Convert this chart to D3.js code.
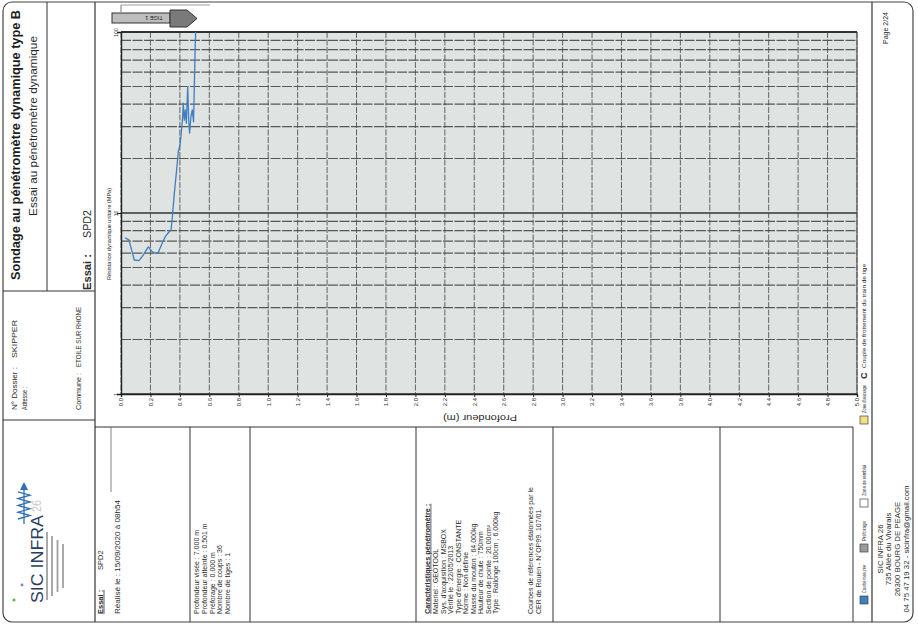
<!DOCTYPE html>
<html><head><meta charset="utf-8">
<script src="https://cdn.jsdelivr.net/npm/d3@7"></script>
<style>
html,body{margin:0;padding:0;background:#fff;}
svg{display:block;font-family:"Liberation Sans",Arial,sans-serif;}
</style></head><body>
<svg id="page" width="918" height="629"></svg>
<script>
// ---- data ----
const depth = [0.027,0.054,0.090,0.122,0.151,0.185,0.213,0.231,0.253,0.281,0.303,0.326,0.340,0.349,0.362,0.378,0.389,0.401,0.408,0.419,0.423,0.430,0.437,0.444,0.453,0.460,0.466,0.475,0.484,0.493,0.503,0.507];
const resistance = [7.3,7.1,5.5,5.45,5.85,6.5,6.1,6.0,6.05,6.85,7.45,7.85,8.05,9.5,12.8,17.3,21.8,23.8,27.0,34.0,40.4,32.6,37.1,31.3,49.9,32.6,27.6,34.0,37.1,31.9,76.0,100];
const depthTicks = [0,0.2,0.4,0.6,0.8,1.0,1.2,1.4,1.6,1.8,2.0,2.2,2.4,2.6,2.8,3.0,3.2,3.4,3.6,3.8,4.0,4.2,4.4,4.6,4.8,5.0];
const resistanceTicks = [1,10,100];
const resistanceMinor = [2,3,4,5,6,7,8,9,20,30,40,50,60,70,80,90];
const legendLabels = ["Courbe mesurée","Préforage","Zone de remblai","Zone d'ancrage"];
const legendColors = ["#3f7fc0","#9a9a9a","#ffffff","#f2df8a"];
const titleText = "Sondage au pénétromètre dynamique type B";
const subtitleText = "Essai au pénétromètre dynamique";
const essaiName = "SPD2";
const dossierName = "SKIPPER";
const communeName = "ETOILE SUR RHONE";
const realiseText = "Réalisé le : 15/09/2020 à 08h54";
const sondageInfo = ["Profondeur visée : 7.000 m","Profondeur atteinte : 0.501 m","Préforage : 0.000 m","Nombre de coups : 36","Nombre de tiges : 1"];
const caracTitle = "Caractéristiques pénétromètre :";
const caracInfo = ["Materiel : GEOTOOL","Sys. d'acquisition : MSBOX","Vérifié le : 22/05/2013","Type d'énergie : CONSTANTE","Norme : Non définie","Masse du mouton : 64.000kg","Hauteur de chute : 750mm","Section de pointe : 20.00cm²","Type : Rallonge 100cm , 6.000kg"];
const courbesInfo = ["Courbes de références étalonnées par le","CER de Rouen - N°OP99. 107/01"];
const footerLines = ["SIC INFRA 26","735 Allée du Vivarais","26300 BOURG DE PEAGE","04 75 47 19 32 - sicinfra@gmail.com"];
const pageText = "Page 2/24";

// ---- drawing ----
const svg = d3.select("#page");
const ink = "#2a2a2a";

// rotated text helper (reads bottom-to-top); cx = visual centre of glyph column
function rtext(cx, y, str, fs, o = {}) {
  const t = svg.append("text")
    .attr("transform", `translate(${cx + 0.35 * fs},${y}) rotate(-90)`)
    .attr("font-size", fs)
    .attr("fill", o.fill || ink)
    .attr("text-anchor", o.anchor || "start")
    .text(str);
  if (o.bold) t.attr("font-weight", o.bold);
  if (o.underline) t.attr("text-decoration", "underline");
  if (o.len) t.attr("textLength", o.len).attr("lengthAdjust", "spacingAndGlyphs");
  return t;
}
function line(x1, y1, x2, y2, w = 1, c = "#333") {
  svg.append("line").attr("x1", x1).attr("y1", y1).attr("x2", x2).attr("y2", y2)
    .attr("stroke", c).attr("stroke-width", w);
}

// outer frame
svg.append("rect").attr("x", 3).attr("y", 2).attr("width", 910).attr("height", 620)
  .attr("rx", 9).attr("fill", "none").attr("stroke", "#444").attr("stroke-width", 1.2);
line(95, 2, 95, 622, 1.2);
line(872, 2, 872, 622, 1.2);
line(3, 291, 95, 291, 1.1);
line(47, 2, 47, 291, 1);
line(3, 420, 95, 420, 1);
// bottom table
line(95, 427, 853, 427, 1.2);
[190, 250, 416, 553, 720, 853].forEach(x => line(x, 427, x, 622, 1));
line(111, 427, 111, 492, 0.8, "#666");

// ---- left column ----
rtext(16, 280, titleText, 12, { bold: 700, len: 270, fill: "#1d1d1d" });
rtext(33, 216, subtitleText, 10.5, { len: 180 });
rtext(87, 290, "Essai :", 11, { bold: 600, len: 36 });
rtext(87, 238, essaiName, 11, { len: 28 });
rtext(14, 410, "N° Dossier :", 8, { len: 43 });
rtext(14, 358, dossierName, 8, { len: 38 });
rtext(24, 410, "Adresse :", 7.5, { len: 23 });
rtext(78, 410, "Commune :", 8, { len: 37 });
rtext(78, 367, communeName, 8, { len: 60 });

// logo
rtext(37, 603, "SIC INFRA", 16, { fill: "#2c3d62", len: 88 });
rtext(37, 512, "26", 12, { fill: "#c8c8c8", len: 12 });
svg.append("circle").attr("cx", 14).attr("cy", 600).attr("r", 1.6).attr("fill", "#6ab04c");
svg.append("circle").attr("cx", 22).attr("cy", 585).attr("r", 1.4).attr("fill", "#8a7fc8");
const coil = [];
for (let i = 0; i <= 8; i++) coil.push([i % 2 ? 30 : 18, 519 - i * 3.4]);
svg.append("path").attr("d", d3.line()(coil)).attr("fill", "none").attr("stroke", "#2f6fb3").attr("stroke-width", 1.3);
line(24, 524, 24, 489, 1.3, "#2f6fb3");
svg.append("path").attr("d", "M24,482 L20,490 L28,490 Z").attr("fill", "#2f6fb3");
[47, 52, 57.5, 63].forEach((x, i) => {
  svg.append("rect").attr("x", x - 0.9).attr("y", 532 + i * 4).attr("width", 1.8).attr("height", 68 - i * 8).attr("fill", "#a0a0a0");
});

// ---- chart ----
const x = d3.scaleLinear().domain([0, 5]).range([121, 857]);
const y = d3.scaleLog().domain([1, 100]).range([394, 32]);

svg.append("rect").attr("x", x(0)).attr("y", y(100)).attr("width", x(5) - x(0)).attr("height", y(1) - y(100))
  .attr("fill", "#dfe3e1");

const grid = svg.append("g");
grid.selectAll(".hminor").data(resistanceMinor).enter().append("line")
  .attr("x1", x(0)).attr("x2", x(5)).attr("y1", d => y(d)).attr("y2", d => y(d))
  .attr("stroke", "#4a4a4a").attr("stroke-width", 1.2).attr("stroke-dasharray", "10,1.5").attr("opacity", 0.9);
grid.selectAll(".hmajor").data(resistanceTicks).enter().append("line")
  .attr("x1", x(0)).attr("x2", x(5)).attr("y1", d => y(d)).attr("y2", d => y(d))
  .attr("stroke", "#333").attr("stroke-width", 1.6);
grid.selectAll(".vg").data(depthTicks).enter().append("line")
  .attr("x1", d => x(d)).attr("x2", d => x(d)).attr("y1", y(100)).attr("y2", y(1))
  .attr("stroke", "#4e4e4e").attr("stroke-width", 1).attr("stroke-dasharray", "6,1.5").attr("opacity", 0.85);

// axes
const xAxis = svg.append("g").attr("transform", `translate(0,${y(1)})`)
  .call(d3.axisBottom(x).tickValues(depthTicks).tickSize(3).tickFormat(d3.format(".1f")));
xAxis.select(".domain").attr("stroke", "#222").attr("stroke-width", 1.4);
xAxis.selectAll(".tick line").attr("stroke", "#222");
xAxis.selectAll(".tick text")
  .attr("font-size", 6).attr("fill", ink)
  .attr("transform", "rotate(-90)").attr("text-anchor", "end").attr("x", -4).attr("y", 0).attr("dy", "0.32em");

const yAxis = svg.append("g").attr("transform", `translate(${x(0)},0)`)
  .call(d3.axisLeft(y).tickValues(resistanceTicks).tickSize(4).tickFormat(d3.format("d")));
yAxis.select(".domain").attr("stroke", "#222").attr("stroke-width", 1.4);
yAxis.selectAll(".tick line").attr("stroke", "#222");
yAxis.selectAll(".tick text")
  .attr("font-size", 5).attr("fill", ink)
  .attr("transform", "rotate(-90)").attr("text-anchor", "middle").attr("x", 0).attr("y", -5);

// plot border top/right
line(x(0), y(100), x(5), y(100), 1.4, "#222");
line(x(5), y(100), x(5), y(1), 1, "#444");

// axis titles
rtext(109, 280, "Résistance dynamique unitaire (MPa)", 5.2, { len: 92 });
svg.append("text").attr("transform", "translate(480,418) rotate(180)")
  .attr("font-size", 9).attr("fill", ink).attr("text-anchor", "middle").attr("dy", "0.35em")
  .attr("textLength", 74).attr("lengthAdjust", "spacingAndGlyphs").text("Profondeur (m)");

// curve
const pts = depth.map((d, i) => [d, resistance[i]]);
svg.append("path").datum(pts)
  .attr("d", d3.line().x(d => x(d[0])).y(d => y(d[1])))
  .attr("fill", "none").attr("stroke", "#3f7fc0").attr("stroke-width", 1.3).attr("stroke-linejoin", "round");

// rod indicator at top
line(121, 5, 210, 5, 0.8, "#888");
line(121, 5, 121, 12, 0.8, "#555");
svg.append("rect").attr("x", 112).attr("y", 13).attr("width", 58).attr("height", 10)
  .attr("fill", "#bdbdbd").attr("stroke", "#333").attr("stroke-width", 1);
svg.append("path").attr("d", "M170,10 L187,10 L197,18.5 L187,27 L170,27 Z")
  .attr("fill", "#7a7a7a").attr("stroke", "#333").attr("stroke-width", 1);
svg.append("text").attr("transform", "translate(154,18) rotate(180)")
  .attr("font-size", 5.5).attr("fill", "#222").attr("text-anchor", "middle").attr("dy", "0.35em").text("TIGE 1");

// legend (rotated)
const legY = [600, 548, 503, 420];
const legLen = [28, 20, 31, 28];
legendLabels.forEach((lab, i) => {
  svg.append("rect").attr("x", 860).attr("y", legY[i] - 4).attr("width", 8).attr("height", 8)
    .attr("fill", legendColors[i]).attr("stroke", "#444").attr("stroke-width", 0.7);
  rtext(864, legY[i] - 7, lab, 4.6, { len: legLen[i] });
});
rtext(864, 379, "C", 9, { bold: 700 });
rtext(864, 368, "Couple de frottement du train de tige", 4.8, { len: 104 });

// ---- bottom table texts ----
rtext(100, 614, "Essai :", 7.5, { bold: 700, underline: true });
rtext(100, 570, essaiName, 7.5);
rtext(117, 614, realiseText, 7.3, { len: 114 });
sondageInfo.forEach((s, i) => rtext(197 + i * 7.6, 614, s, 7));
rtext(427, 614, caracTitle, 7.3, { bold: 700, underline: true });
caracInfo.forEach((s, i) => rtext(436 + i * 7.5, 614, s, 7));
courbesInfo.forEach((s, i) => rtext(531 + i * 7.5, 614, s, 7));

// ---- right column ----
rtext(886, 44, pageText, 7);
footerLines.forEach((s, i) => rtext(880 + i * 8.6, 549, s, 7.8, { anchor: "middle" }));
</script>
</body></html>
